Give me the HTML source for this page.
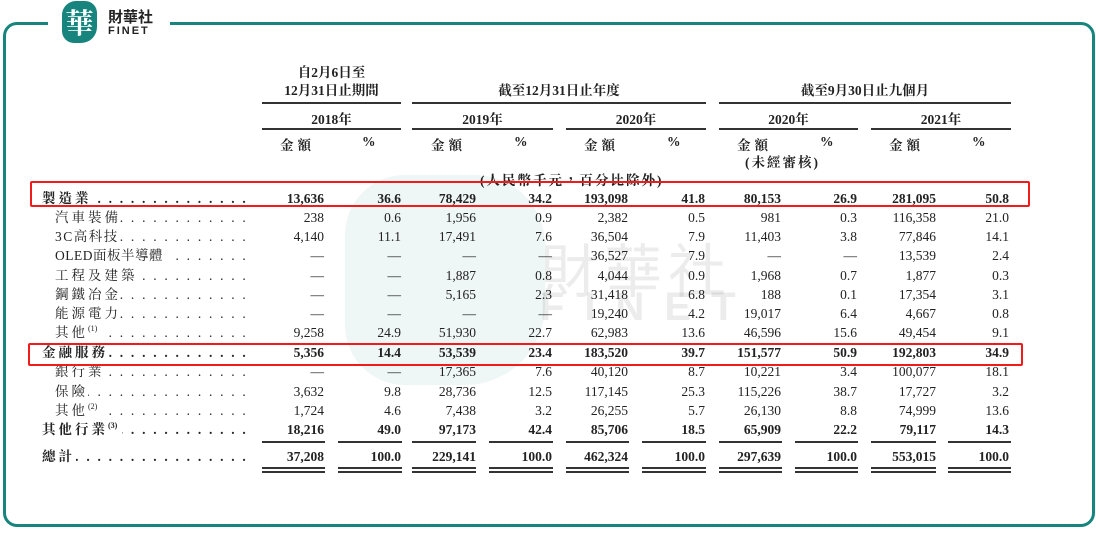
<!DOCTYPE html>
<html><head><meta charset="utf-8"><style>
body{margin:0;width:1096px;height:545px;background:#fff;position:relative;overflow:hidden;font-family:"Liberation Serif","Noto Serif CJK TC","Noto Serif CJK SC",serif;color:#222;font-size:13.5px}
.a{position:absolute;white-space:nowrap}
.n{position:absolute;width:90px;text-align:right}
.r{position:absolute;left:0;width:1096px;height:19px;line-height:19px}
.b{font-weight:bold}
.c{text-align:center}
.ln{position:absolute;height:2px;background:#333}
.lab{position:absolute;letter-spacing:3px;white-space:nowrap}
.dots{position:absolute;letter-spacing:2.2px;overflow:hidden;white-space:nowrap;text-align:right;direction:rtl}
sup{font-size:8px;letter-spacing:0;line-height:0;vertical-align:6px}
</style></head><body>
<div class="a" style="left:3px;top:22px;width:1086px;height:499px;border:3px solid #17857d;border-radius:14px"></div>
<div class="a" style="left:48px;top:15px;width:122px;height:16px;background:#fff"></div>
<div class="a" style="left:62px;top:1px;width:35px;height:42px;background:#17857d;border-radius:14px 12px 16px 12px;color:#fff;font-size:28px;line-height:42px;text-align:center;font-family:'Noto Serif CJK TC',serif;font-weight:bold">華</div>
<div class="a" style="left:108px;top:10px;font-family:'Liberation Sans','Noto Sans CJK TC',sans-serif;font-size:15px;font-weight:bold;color:#222;line-height:16px">財華社</div>
<div class="a" style="left:108px;top:25px;font-family:'Liberation Sans',sans-serif;font-size:11px;font-weight:bold;letter-spacing:2px;color:#222">FINET</div>
<div class="a" style="left:345px;top:175px;width:200px;height:210px;background:#17857d;opacity:0.07;border-radius:60px 70px 80px 60px"></div>
<div class="a" style="left:540px;top:225px;font-family:'Noto Sans CJK TC',sans-serif;font-size:58px;color:#000;opacity:0.07;letter-spacing:6px">財華社</div>
<div class="a" style="left:540px;top:285px;font-family:'Liberation Sans',sans-serif;font-size:40px;font-weight:bold;color:#000;opacity:0.07;letter-spacing:20px">FINET</div>
<div class="a b c" style="left:262px;width:139px;top:64px;line-height:18px">自2月6日至<br>12月31日止期間</div>
<div class="a b c" style="left:412px;width:294px;top:82px;line-height:18px">截至12月31日止年度</div>
<div class="a b c" style="left:719px;width:292px;top:82px;line-height:18px">截至9月30日止九個月</div>
<div class="ln" style="left:262px;width:139px;top:102px"></div>
<div class="ln" style="left:412px;width:294px;top:102px"></div>
<div class="ln" style="left:719px;width:292px;top:102px"></div>
<div class="a b c" style="left:262px;width:139px;top:108px">2018年</div>
<div class="a b c" style="left:412px;width:141px;top:108px">2019年</div>
<div class="a b c" style="left:566px;width:140px;top:108px">2020年</div>
<div class="a b c" style="left:719px;width:139px;top:108px">2020年</div>
<div class="a b c" style="left:871px;width:140px;top:108px">2021年</div>
<div class="ln" style="left:262px;width:139px;top:128px"></div>
<div class="ln" style="left:412px;width:141px;top:128px"></div>
<div class="ln" style="left:566px;width:140px;top:128px"></div>
<div class="ln" style="left:719px;width:139px;top:128px"></div>
<div class="ln" style="left:871px;width:140px;top:128px"></div>
<div class="a b" style="left:280px;top:134px;letter-spacing:4px">金額</div><div class="a b" style="left:362px;top:134px">%</div>
<div class="a b" style="left:431px;top:134px;letter-spacing:4px">金額</div><div class="a b" style="left:514px;top:134px">%</div>
<div class="a b" style="left:584px;top:134px;letter-spacing:4px">金額</div><div class="a b" style="left:667px;top:134px">%</div>
<div class="a b" style="left:737px;top:134px;letter-spacing:4px">金額</div><div class="a b" style="left:820px;top:134px">%</div>
<div class="a b" style="left:889px;top:134px;letter-spacing:4px">金額</div><div class="a b" style="left:972px;top:134px">%</div>
<div class="a b" style="left:745px;top:151px;letter-spacing:2px">(未經審核)</div>
<div class="a b" style="left:480px;top:169px;letter-spacing:2px">(人民幣千元，百分比除外)</div>

<div class="r b" style="top:189px"><span class="lab" style="left:42px">製造業</span><span class="dots" style="left:92px;width:156px">. . . . . . . . . . . . . . . . . . . . . . . . .</span>
<span class="n" style="left:234px">13,636</span><span class="n" style="left:311px">36.6</span><span class="n" style="left:386px">78,429</span><span class="n" style="left:462px">34.2</span><span class="n" style="left:538px">193,098</span><span class="n" style="left:615px">41.8</span><span class="n" style="left:691px">80,153</span><span class="n" style="left:767px">26.9</span><span class="n" style="left:846px">281,095</span><span class="n" style="left:919px">50.8</span></div>
<div class="r" style="top:208px"><span class="lab" style="left:55px">汽車裝備</span><span class="dots" style="left:120px;width:128px">. . . . . . . . . . . . . . . . . . . . . . . .</span>
<span class="n" style="left:234px">238</span><span class="n" style="left:311px">0.6</span><span class="n" style="left:386px">1,956</span><span class="n" style="left:462px">0.9</span><span class="n" style="left:538px">2,382</span><span class="n" style="left:615px">0.5</span><span class="n" style="left:691px">981</span><span class="n" style="left:767px">0.3</span><span class="n" style="left:846px">116,358</span><span class="n" style="left:919px">21.0</span></div>
<div class="r" style="top:227px"><span class="lab" style="left:55px;letter-spacing:1.5px">3C高科技</span><span class="dots" style="left:118px;width:130px">. . . . . . . . . . . . . . . . . . . . . . . .</span>
<span class="n" style="left:234px">4,140</span><span class="n" style="left:311px">11.1</span><span class="n" style="left:386px">17,491</span><span class="n" style="left:462px">7.6</span><span class="n" style="left:538px">36,504</span><span class="n" style="left:615px">7.9</span><span class="n" style="left:691px">11,403</span><span class="n" style="left:767px">3.8</span><span class="n" style="left:846px">77,846</span><span class="n" style="left:919px">14.1</span></div>
<div class="r" style="top:246px"><span class="lab" style="left:55px;letter-spacing:0.5px">OLED面板半導體</span><span class="dots" style="left:168px;width:80px">. . . . . . . . . . . . . . . .</span>
<span class="n" style="left:234px">—</span><span class="n" style="left:311px">—</span><span class="n" style="left:386px">—</span><span class="n" style="left:462px">—</span><span class="n" style="left:538px">36,527</span><span class="n" style="left:615px">7.9</span><span class="n" style="left:691px">—</span><span class="n" style="left:767px">—</span><span class="n" style="left:846px">13,539</span><span class="n" style="left:919px">2.4</span></div>
<div class="r" style="top:266px"><span class="lab" style="left:55px">工程及建築</span><span class="dots" style="left:136px;width:112px">. . . . . . . . . . . . . . . . . . . . .</span>
<span class="n" style="left:234px">—</span><span class="n" style="left:311px">—</span><span class="n" style="left:386px">1,887</span><span class="n" style="left:462px">0.8</span><span class="n" style="left:538px">4,044</span><span class="n" style="left:615px">0.9</span><span class="n" style="left:691px">1,968</span><span class="n" style="left:767px">0.7</span><span class="n" style="left:846px">1,877</span><span class="n" style="left:919px">0.3</span></div>
<div class="r" style="top:285px"><span class="lab" style="left:55px">鋼鐵冶金</span><span class="dots" style="left:120px;width:128px">. . . . . . . . . . . . . . . . . . . . . . . .</span>
<span class="n" style="left:234px">—</span><span class="n" style="left:311px">—</span><span class="n" style="left:386px">5,165</span><span class="n" style="left:462px">2.3</span><span class="n" style="left:538px">31,418</span><span class="n" style="left:615px">6.8</span><span class="n" style="left:691px">188</span><span class="n" style="left:767px">0.1</span><span class="n" style="left:846px">17,354</span><span class="n" style="left:919px">3.1</span></div>
<div class="r" style="top:304px"><span class="lab" style="left:55px">能源電力</span><span class="dots" style="left:120px;width:128px">. . . . . . . . . . . . . . . . . . . . . . . .</span>
<span class="n" style="left:234px">—</span><span class="n" style="left:311px">—</span><span class="n" style="left:386px">—</span><span class="n" style="left:462px">—</span><span class="n" style="left:538px">19,240</span><span class="n" style="left:615px">4.2</span><span class="n" style="left:691px">19,017</span><span class="n" style="left:767px">6.4</span><span class="n" style="left:846px">4,667</span><span class="n" style="left:919px">0.8</span></div>
<div class="r" style="top:323px"><span class="lab" style="left:55px">其他<sup>(1)</sup></span><span class="dots" style="left:104px;width:144px">. . . . . . . . . . . . . . . . . . . . . . . . . .</span>
<span class="n" style="left:234px">9,258</span><span class="n" style="left:311px">24.9</span><span class="n" style="left:386px">51,930</span><span class="n" style="left:462px">22.7</span><span class="n" style="left:538px">62,983</span><span class="n" style="left:615px">13.6</span><span class="n" style="left:691px">46,596</span><span class="n" style="left:767px">15.6</span><span class="n" style="left:846px">49,454</span><span class="n" style="left:919px">9.1</span></div>
<div class="r b" style="top:343px"><span class="lab" style="left:42px">金融服務</span><span class="dots" style="left:106px;width:142px">. . . . . . . . . . . . . . . . . . . . . . . . . .</span>
<span class="n" style="left:234px">5,356</span><span class="n" style="left:311px">14.4</span><span class="n" style="left:386px">53,539</span><span class="n" style="left:462px">23.4</span><span class="n" style="left:538px">183,520</span><span class="n" style="left:615px">39.7</span><span class="n" style="left:691px">151,577</span><span class="n" style="left:767px">50.9</span><span class="n" style="left:846px">192,803</span><span class="n" style="left:919px">34.9</span></div>
<div class="r" style="top:362px"><span class="lab" style="left:55px">銀行業</span><span class="dots" style="left:104px;width:144px">. . . . . . . . . . . . . . . . . . . . . . . . . .</span>
<span class="n" style="left:234px">—</span><span class="n" style="left:311px">—</span><span class="n" style="left:386px">17,365</span><span class="n" style="left:462px">7.6</span><span class="n" style="left:538px">40,120</span><span class="n" style="left:615px">8.7</span><span class="n" style="left:691px">10,221</span><span class="n" style="left:767px">3.4</span><span class="n" style="left:846px">100,077</span><span class="n" style="left:919px">18.1</span></div>
<div class="r" style="top:382px"><span class="lab" style="left:55px">保險</span><span class="dots" style="left:88px;width:160px">. . . . . . . . . . . . . . . . . . . . . . . . . . . . .</span>
<span class="n" style="left:234px">3,632</span><span class="n" style="left:311px">9.8</span><span class="n" style="left:386px">28,736</span><span class="n" style="left:462px">12.5</span><span class="n" style="left:538px">117,145</span><span class="n" style="left:615px">25.3</span><span class="n" style="left:691px">115,226</span><span class="n" style="left:767px">38.7</span><span class="n" style="left:846px">17,727</span><span class="n" style="left:919px">3.2</span></div>
<div class="r" style="top:401px"><span class="lab" style="left:55px">其他<sup>(2)</sup></span><span class="dots" style="left:104px;width:144px">. . . . . . . . . . . . . . . . . . . . . . . . . .</span>
<span class="n" style="left:234px">1,724</span><span class="n" style="left:311px">4.6</span><span class="n" style="left:386px">7,438</span><span class="n" style="left:462px">3.2</span><span class="n" style="left:538px">26,255</span><span class="n" style="left:615px">5.7</span><span class="n" style="left:691px">26,130</span><span class="n" style="left:767px">8.8</span><span class="n" style="left:846px">74,999</span><span class="n" style="left:919px">13.6</span></div>
<div class="r b" style="top:420px"><span class="lab" style="left:42px">其他行業<sup>(3)</sup></span><span class="dots" style="left:122px;width:126px">. . . . . . . . . . . . . . . . . . . . . . .</span>
<span class="n" style="left:234px">18,216</span><span class="n" style="left:311px">49.0</span><span class="n" style="left:386px">97,173</span><span class="n" style="left:462px">42.4</span><span class="n" style="left:538px">85,706</span><span class="n" style="left:615px">18.5</span><span class="n" style="left:691px">65,909</span><span class="n" style="left:767px">22.2</span><span class="n" style="left:846px">79,117</span><span class="n" style="left:919px">14.3</span></div>
<div class="r b" style="top:447px"><span class="lab" style="left:42px">總計</span><span class="dots" style="left:76px;width:172px">. . . . . . . . . . . . . . . . . . . . . . . . . . . . . . .</span>
<span class="n" style="left:234px">37,208</span><span class="n" style="left:311px">100.0</span><span class="n" style="left:386px">229,141</span><span class="n" style="left:462px">100.0</span><span class="n" style="left:538px">462,324</span><span class="n" style="left:615px">100.0</span><span class="n" style="left:691px">297,639</span><span class="n" style="left:767px">100.0</span><span class="n" style="left:846px">553,015</span><span class="n" style="left:919px">100.0</span></div>
<div class="ln" style="left:262px;width:63px;top:441px"></div><div class="ln" style="left:338px;width:64px;top:441px"></div>
<div class="ln" style="left:412px;width:64px;top:441px"></div><div class="ln" style="left:489px;width:64px;top:441px"></div>
<div class="ln" style="left:566px;width:63px;top:441px"></div><div class="ln" style="left:642px;width:64px;top:441px"></div>
<div class="ln" style="left:719px;width:63px;top:441px"></div><div class="ln" style="left:795px;width:63px;top:441px"></div>
<div class="ln" style="left:871px;width:65px;top:441px"></div><div class="ln" style="left:948px;width:63px;top:441px"></div>
<div class="ln" style="left:262px;width:63px;top:467px;height:1.5px"></div><div class="ln" style="left:338px;width:64px;top:467px;height:1.5px"></div>
<div class="ln" style="left:412px;width:64px;top:467px;height:1.5px"></div><div class="ln" style="left:489px;width:64px;top:467px;height:1.5px"></div>
<div class="ln" style="left:566px;width:63px;top:467px;height:1.5px"></div><div class="ln" style="left:642px;width:64px;top:467px;height:1.5px"></div>
<div class="ln" style="left:719px;width:63px;top:467px;height:1.5px"></div><div class="ln" style="left:795px;width:63px;top:467px;height:1.5px"></div>
<div class="ln" style="left:871px;width:65px;top:467px;height:1.5px"></div><div class="ln" style="left:948px;width:63px;top:467px;height:1.5px"></div>
<div class="ln" style="left:262px;width:63px;top:471px;height:1.5px"></div><div class="ln" style="left:338px;width:64px;top:471px;height:1.5px"></div>
<div class="ln" style="left:412px;width:64px;top:471px;height:1.5px"></div><div class="ln" style="left:489px;width:64px;top:471px;height:1.5px"></div>
<div class="ln" style="left:566px;width:63px;top:471px;height:1.5px"></div><div class="ln" style="left:642px;width:64px;top:471px;height:1.5px"></div>
<div class="ln" style="left:719px;width:63px;top:471px;height:1.5px"></div><div class="ln" style="left:795px;width:63px;top:471px;height:1.5px"></div>
<div class="ln" style="left:871px;width:65px;top:471px;height:1.5px"></div><div class="ln" style="left:948px;width:63px;top:471px;height:1.5px"></div>
<div class="a" style="left:30px;top:181px;width:996px;height:22px;border:2.5px solid #f01c1c;border-radius:2px"></div>
<div class="a" style="left:28px;top:343px;width:991px;height:19px;border:2.5px solid #f01c1c;border-radius:2px"></div>
</body></html>
